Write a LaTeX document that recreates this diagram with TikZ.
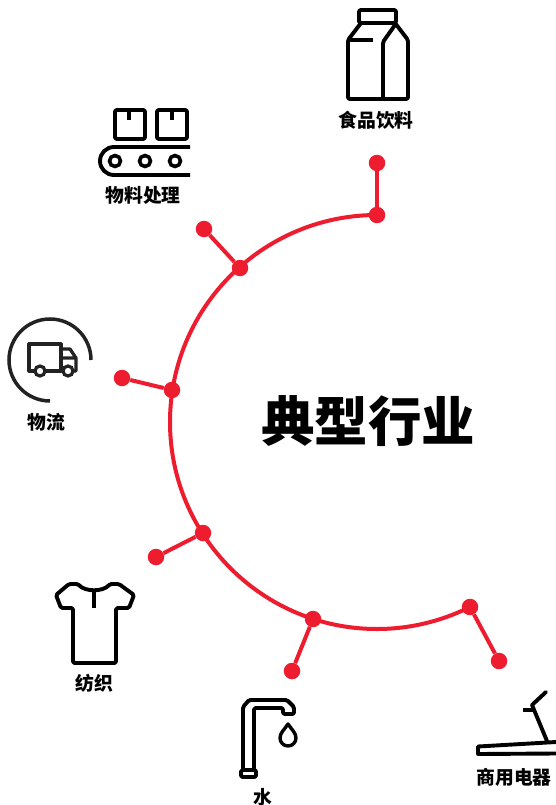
\documentclass[tikz,border=0pt]{standalone}
\usepackage{fontspec}
\newfontfamily\cjk{Noto Sans CJK SC}
\usepackage{xcolor}
\definecolor{myred}{RGB}{237,28,46}
\definecolor{mydark}{RGB}{34,34,34}
\usepackage{tikz}
\usetikzlibrary{positioning}
\tikzset{red dot/.style={circle,fill=myred,minimum size=16.5pt,inner sep=0pt},}
\tikzset{icon line/.style={draw=black,line width=3.9pt,line join=round,rounded corners=1.5pt},}
\tikzset{main label/.style={font=\cjk\bfseries\fontsize{18.8}{21}\selectfont,inner sep=0pt},}

\begin{document}
\begin{tikzpicture}[x=1pt,y=-1pt]
		\useasboundingbox (0,0) rectangle (556,805);
		\node[red dot] (food in) at (377,215) {};
		\node[red dot] (food out) at (377,163) {};
		\node[red dot] (belt in) at (240,268) {};
		\node[red dot] (belt out) at (204,229) {};
		\node[red dot] (truck in) at (172,390) {};
		\node[red dot] (truck out) at (122,378) {};
		\node[red dot] (shirt in) at (203,533) {};
		\node[red dot] (shirt out) at (156,557) {};
		\node[red dot] (tap in) at (313,619) {};
		\node[red dot] (tap out) at (292,671) {};
		\node[red dot] (run in) at (470,607) {};
		\node[red dot] (run out) at (499,661) {};

		\draw[myred,line width=4pt] (food in.center) arc[start angle=90,end angle=296.7,radius=207pt];
		\path[draw,myred,line width=4pt]
		(food in) edge (food out)
		(belt in) edge (belt out)
		(truck in) edge (truck out)
		(shirt in) edge (shirt out)
		(tap in) edge (tap out)
		(run in) edge (run out);

		\node[inner sep=0pt,font=\cjk\bfseries\fontsize{53.5}{60}\selectfont] (title) at (368,421) {典型行业};
		\node[main label] (food) at (376,120) {食品饮料};
		\node[main label] (belt) at (143,195) {物料处理};
		\node[main label] (truck) at (46,422) {物流};
		\node[main label] (shirt) at (94,683) {纺织};
		\node[main label] (tap) at (263,797) {水};
		\node[main label] (run) at (514,777) {商用电器};

		% carton
		\draw[icon line] (359,23) -- (359,10) -- (396,10) -- (396,23) -- cycle;
		\draw[icon line] (361,23) -- (348,40) -- (348,99) -- (408,99) -- (408,40) -- (395,23);
		\draw[icon line] (348,40) -- (373,40);
		\draw[icon line] (383,99) -- (383,42) -- (395,25);
		% conveyor
		\draw[icon line] (115,110) rectangle (145,139);
		\draw[icon line] (157,110) rectangle (187,139);
		\draw[icon line] (129,110) -- (129,120);
		\draw[icon line] (172,110) -- (172,120);
		\draw[icon line,rounded corners=0pt] (190,147) -- (114,147) arc[start angle=90,end angle=270,radius=14pt] -- (190,175);
		\foreach \x in {115,145,175}
			\draw[black,line width=3.6pt] (\x,161) circle[radius=5.5pt];
		% truck
		\draw[mydark,line width=3.5pt] (91,360) arc[start angle=0,end angle=270,radius=41pt];
		\draw[mydark,line width=3.2pt,line join=round] (34.5,371) -- (29,371) -- (29,344) -- (61,344) -- (61,371) -- (45.5,371);
		\draw[mydark,line width=3.2pt,line join=round] (61,349) -- (70,349) -- (76,358) -- (76,371) -- (73.5,371) (62.5,371) -- (61,371) (61,358) -- (76,358);
		\draw[mydark,line width=3.2pt] (40,371) circle[radius=5pt] (68,371) circle[radius=5pt];
		% shirt
		\draw[icon line] (78,584) .. controls (85,592) and (103,592) .. (110,584) -- (119,584) -- (134,595) -- (129,608) -- (116,608) -- (116,663) -- (73,663) -- (73,608) -- (61,608) -- (56,595) -- (69,584) -- cycle;
		\draw[icon line] (94,591) -- (94,608);
		% tap
		\draw[icon line] (243,769) -- (243,707) -- (249,700) -- (287,700) -- (294,707) -- (294,714) -- (283,714) -- (283,708) -- (254,708) -- (254,769);
		\draw[icon line] (241,770) rectangle (256,777);
		\draw[icon line,line width=3.4pt,rounded corners=0pt] (288,724) .. controls (284,730) and (280,733) .. (280,738) arc[start angle=180,end angle=360,radius=8pt] .. controls (296,733) and (292,730) .. (288,724) -- cycle;
		% treadmill
		\draw[icon line,line cap=round,rounded corners=0pt] (546,692) -- (532,705) -- (547,741);
		\draw[icon line,rounded corners=0pt] (523,710) -- (534,710);
		\draw[icon line,rounded corners=0pt] (556,742) -- (478,746.5) -- (478,754) -- (556,753.5);
\end{tikzpicture}
\end{document}
